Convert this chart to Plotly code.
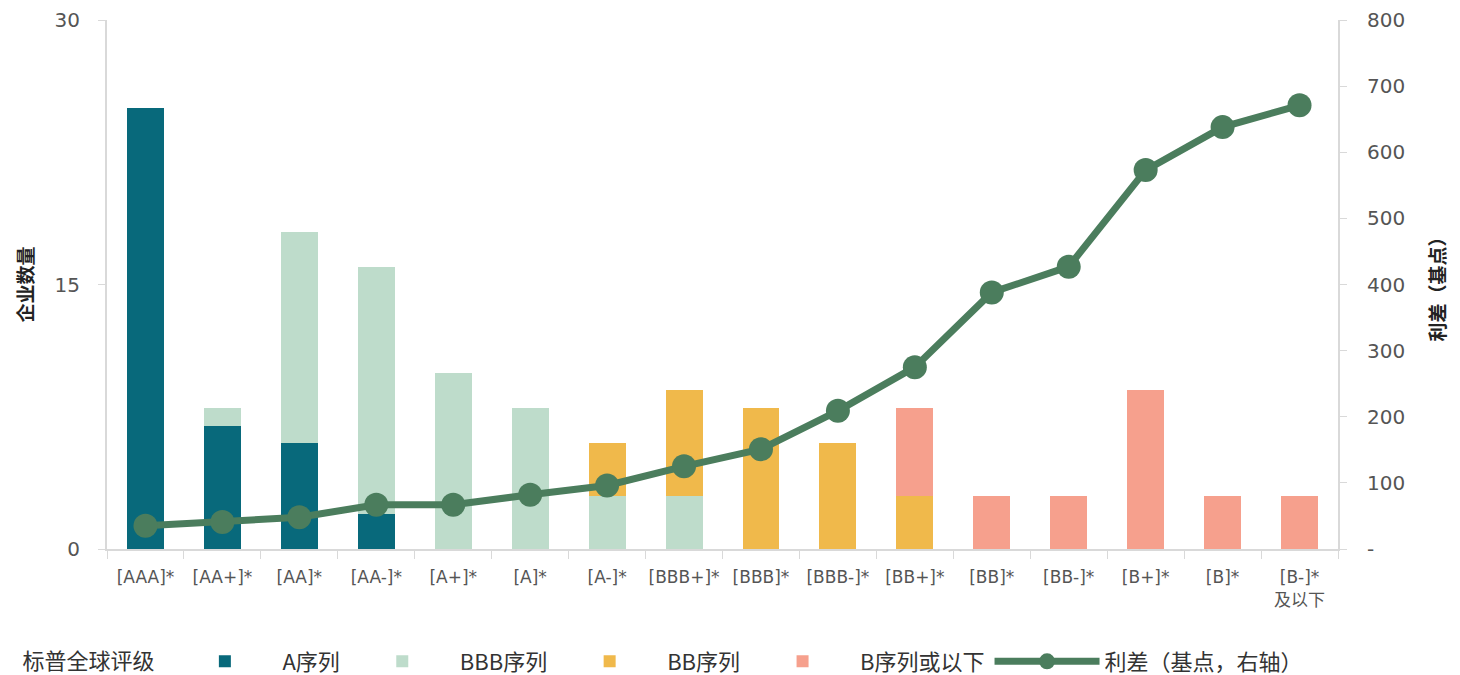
import plotly.graph_objects as go

categories = ["[AAA]*", "[AA+]*", "[AA]*", "[AA-]*", "[A+]*", "[A]*", "[A-]*", "[BBB+]*",
              "[BBB]*", "[BBB-]*", "[BB+]*", "[BB]*", "[BB-]*", "[B+]*", "[B]*", "[B-]*<br>及以下"]
a_series   = [25, 7, 6, 2, 0, 0, 0, 0, 0, 0, 0, 0, 0, 0, 0, 0]
bbb_series = [0, 1, 12, 14, 10, 8, 3, 3, 0, 0, 0, 0, 0, 0, 0, 0]
bb_series  = [0, 0, 0, 0, 0, 0, 3, 6, 8, 6, 3, 0, 0, 0, 0, 0]
b_series   = [0, 0, 0, 0, 0, 0, 0, 0, 0, 0, 5, 3, 3, 9, 3, 3]
spread_bp  = [35, 41, 48, 67, 67, 82, 96, 125, 151, 209, 275, 388, 427, 573, 638, 671]

left_ticks = [0, 15, 30]
right_ticks = [0, 100, 200, 300, 400, 500, 600, 700, 800]
right_ticktext = ["-", "100", "200", "300", "400", "500", "600", "700", "800"]

FONT = "DejaVu Sans, Noto Sans CJK SC"
CJK = "Noto Sans CJK SC"
fig = go.Figure()
for name, vals, color in [("A序列", a_series, "#08697b"),
                          ("BBB序列", bbb_series, "#bedccb"),
                          ("BB序列", bb_series, "#f0b94b"),
                          ("B序列或以下", b_series, "#f6a08d")]:
    fig.add_trace(go.Bar(x=categories, y=vals, name=name, marker=dict(color=color, line=dict(width=0)),
                         width=0.48))

fig.add_trace(go.Scatter(x=categories, y=spread_bp, name="利差（基点，右轴）", yaxis="y2",
                         mode="lines+markers", line=dict(color="#4b7d5d", width=7),
                         marker=dict(size=24, color="#4b7d5d")))

fig.update_layout(
    width=1460, height=675,
    margin=dict(l=107, r=122, t=20, b=126),
    barmode="stack",
    plot_bgcolor="white", paper_bgcolor="white",
    font=dict(family=FONT, size=17, color="#555555"),
    xaxis=dict(showline=True, linecolor="#d9d9d9", linewidth=2, ticks="outside", tickson="boundaries",
               ticklen=8, tickcolor="#d9d9d9", tickfont=dict(family=FONT, size=17, color="#555555"),
               tickangle=0, showgrid=False, range=[-0.5, 15.5], automargin=False, ticklabelstandoff=12),
    yaxis=dict(range=[0, 30], tickvals=left_ticks, showline=True, linecolor="#d9d9d9", linewidth=2,
               ticks="outside", ticklen=7, tickcolor="#d9d9d9", showgrid=False, zeroline=False,
               tickfont=dict(family=FONT, size=20, color="#555555"), automargin=False,
               ticklabelstandoff=14,
               title=dict(text="企业数量", font=dict(family=CJK, size=19, color="#222222", weight="bold"),
                          standoff=16)),
    yaxis2=dict(range=[0, 800], overlaying="y", side="right", tickvals=right_ticks, ticktext=right_ticktext,
                showline=True, linecolor="#d9d9d9", linewidth=2, ticks="outside", ticklen=7,
                tickcolor="#d9d9d9", showgrid=False, zeroline=False, automargin=False,
                tickfont=dict(family=FONT, size=20, color="#555555"), ticklabelstandoff=16,
                title=dict(text="利差（基点）", font=dict(family=CJK, size=19, color="#222222", weight="bold"),
                           standoff=28)),
    legend=dict(orientation="h", x=0.014, xanchor="left", xref="container",
                y=0.02, yanchor="middle", yref="container",
                title=dict(text="标普全球评级 ", font=dict(family=CJK, size=22, color="#333333")),
                font=dict(family=CJK, size=22, color="#333333"), traceorder="normal", itemwidth=105),
)

fig.write_html("out.html")
